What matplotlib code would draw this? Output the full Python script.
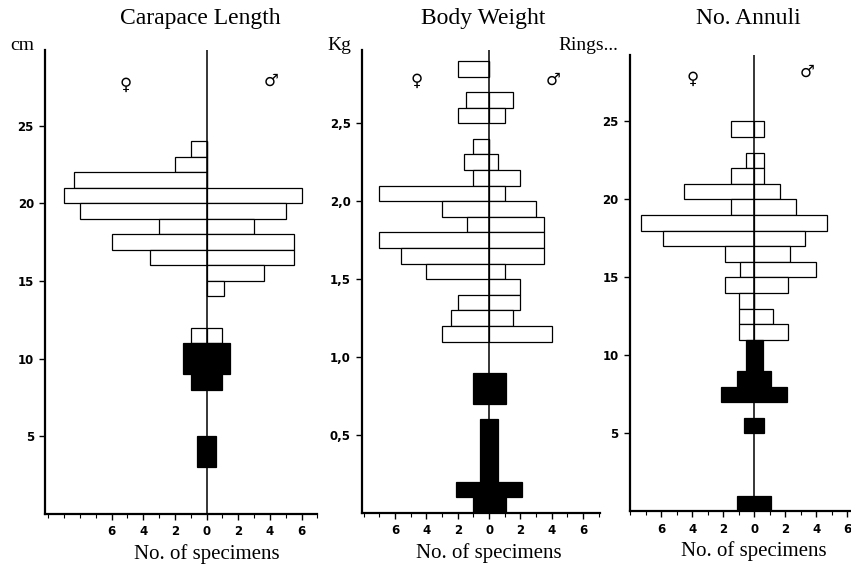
import matplotlib.pyplot as plt
from matplotlib.ticker import MultipleLocator
from matplotlib.transforms import blended_transform_factory

# Carapace length (cm), 1 cm classes: lower edge, females, males
cl_bins = [23, 22, 21, 20, 19, 18, 17, 16, 15, 14, 11]
cl_fem = [1, 2, 8.4, 9, 8, 3, 6, 3.6, 0, 0, 1]
cl_male = [0, 0, 0, 6, 5, 3, 5.5, 5.5, 3.6, 1.1, 1]
# juveniles (black, centred): lower edge, upper edge, total count
cl_juv_lo = [9, 8, 3]
cl_juv_hi = [11, 9, 5]
cl_juv_n = [3, 2, 1.2]

# Body weight (kg), 0.1 kg classes
bw_bins = [2.8, 2.6, 2.5, 2.3, 2.2, 2.1, 2.0, 1.9, 1.8, 1.7, 1.6, 1.5, 1.4, 1.3, 1.2, 1.1]
bw_fem = [2, 1.5, 2, 1, 1.6, 1, 7, 3, 1.4, 7, 5.6, 4, 0, 2, 2.4, 3]
bw_male = [0, 1.5, 1, 0, 0.6, 2, 1, 3, 3.5, 3.5, 3.5, 1, 2, 2, 1.5, 4]
bw_juv_lo = [0.7, 0.2, 0.1, 0.0]
bw_juv_hi = [0.9, 0.6, 0.2, 0.1]
bw_juv_n = [2.1, 1.1, 4.2, 2.1]

# Number of annuli (rings), 1 ring classes
an_bins = [24, 22, 21, 20, 19, 18, 17, 16, 15, 14, 13, 12, 11]
an_fem = [1.5, 0.5, 1.5, 4.5, 1.5, 7.3, 5.9, 1.9, 0.9, 1.9, 1, 1, 1]
an_male = [0.65, 0.65, 0.65, 1.7, 2.7, 4.7, 3.3, 2.3, 4.0, 2.2, 0, 1.2, 2.2]
an_juv_lo = [9, 8, 7, 5, 0]
an_juv_hi = [11, 9, 8, 6, 1]
an_juv_n = [1.1, 2.2, 4.3, 1.3, 2.2]

titles = ['Carapace Length', 'Body Weight', 'No. Annuli']
units = ['cm', 'Kg', 'Rings...']
cl_ticks = [5, 10, 15, 20, 25]
bw_ticks = [0.5, 1.0, 1.5, 2.0, 2.5]
bw_ticklabels = ['0,5', '1,0', '1,5', '2,0', '2,5']
an_ticks = [5, 10, 15, 20, 25]
x_ticks = [-6, -4, -2, 0, 2, 4, 6]
x_ticklabels = ['6', '4', '2', '0', '2', '4', '6']

serif = 'Liberation Serif'

fig = plt.figure(figsize=(8.51, 5.67), dpi=100)

panels = [
    dict(rect=[0.053, 0.0935, 0.320, 0.818], xlim=(-10.2, 7.0), ylim=(0, 29.85),
         bins=cl_bins, w=1, fem=cl_fem, male=cl_male,
         jlo=cl_juv_lo, jhi=cl_juv_hi, jn=cl_juv_n,
         yt=cl_ticks, ytl=[str(t) for t in cl_ticks],
         sym_f=(-5.1, 27.6), sym_m=(4.05, 27.9)),
    dict(rect=[0.4254, 0.0952, 0.2796, 0.8166], xlim=(-8.1, 7.07), ylim=(0, 2.97),
         bins=bw_bins, w=0.1, fem=bw_fem, male=bw_male,
         jlo=bw_juv_lo, jhi=bw_juv_hi, jn=bw_juv_n,
         yt=bw_ticks, ytl=bw_ticklabels,
         sym_f=(-4.6, 2.77), sym_m=(4.1, 2.78)),
    dict(rect=[0.740, 0.0979, 0.259, 0.805], xlim=(-8.03, 6.2), ylim=(0, 29.25),
         bins=an_bins, w=1, fem=an_fem, male=an_male,
         jlo=an_juv_lo, jhi=an_juv_hi, jn=an_juv_n,
         yt=an_ticks, ytl=[str(t) for t in an_ticks],
         sym_f=(-4.0, 27.7), sym_m=(3.4, 28.2)),
]

for i, p in enumerate(panels):
    ax = fig.add_axes(p['rect'])
    # females to the left, males to the right
    ax.barh(p['bins'], [-f for f in p['fem']], height=p['w'], left=0, align='edge',
            color='white', edgecolor='black', linewidth=0.9, zorder=2)
    ax.barh(p['bins'], p['male'], height=p['w'], left=0, align='edge',
            color='white', edgecolor='black', linewidth=0.9, zorder=2)
    # juveniles, sex not determined
    for lo, hi, n in zip(p['jlo'], p['jhi'], p['jn']):
        ax.barh(lo, n, height=hi - lo, left=-n / 2, align='edge',
                color='black', edgecolor='black', linewidth=0.9, zorder=2)
    ax.axvline(0, color='black', lw=1.1, zorder=3)

    ax.set_xlim(*p['xlim'])
    ax.set_ylim(*p['ylim'])
    for s in ['top', 'right']:
        ax.spines[s].set_visible(False)
    for s in ['left', 'bottom']:
        ax.spines[s].set_linewidth(1.6)

    ax.set_yticks(p['yt'])
    ax.set_yticklabels(p['ytl'])
    ax.set_xticks(x_ticks)
    ax.set_xticklabels(x_ticklabels)
    ax.xaxis.set_minor_locator(MultipleLocator(1))
    ax.tick_params(axis='both', which='major', direction='out', length=4, width=1,
                   labelsize=8.5, pad=4)
    ax.tick_params(axis='x', which='minor', direction='out', length=3, width=0.8)
    for lab in ax.get_xticklabels() + ax.get_yticklabels():
        lab.set_fontweight('bold')

    # x label centred under the zero line
    x0, x1 = p['xlim']
    ax.set_xlabel('No. of specimens', fontsize=15, family=serif)
    ax.xaxis.set_label_coords((0 - x0) / (x1 - x0), -0.065)
    ax.xaxis.label.set_va('top')

    trans = blended_transform_factory(ax.transData, fig.transFigure)
    ax.text(-0.4, 0.968, titles[i], transform=trans, ha='center', va='center',
            fontsize=17, family=serif)
    unit_trans = blended_transform_factory(ax.transAxes, fig.transFigure)
    ax.annotate(units[i], xy=(0, 0.92), xycoords=unit_trans, xytext=(-8, 0),
                textcoords='offset points', ha='right', va='center',
                fontsize=14, family=serif)

    ax.text(*p['sym_f'], '♀', ha='center', va='center', fontsize=12, fontweight='bold')
    ax.text(*p['sym_m'], '♂', ha='center', va='center', fontsize=12, fontweight='bold')

fig.savefig('out.png', dpi=100)
